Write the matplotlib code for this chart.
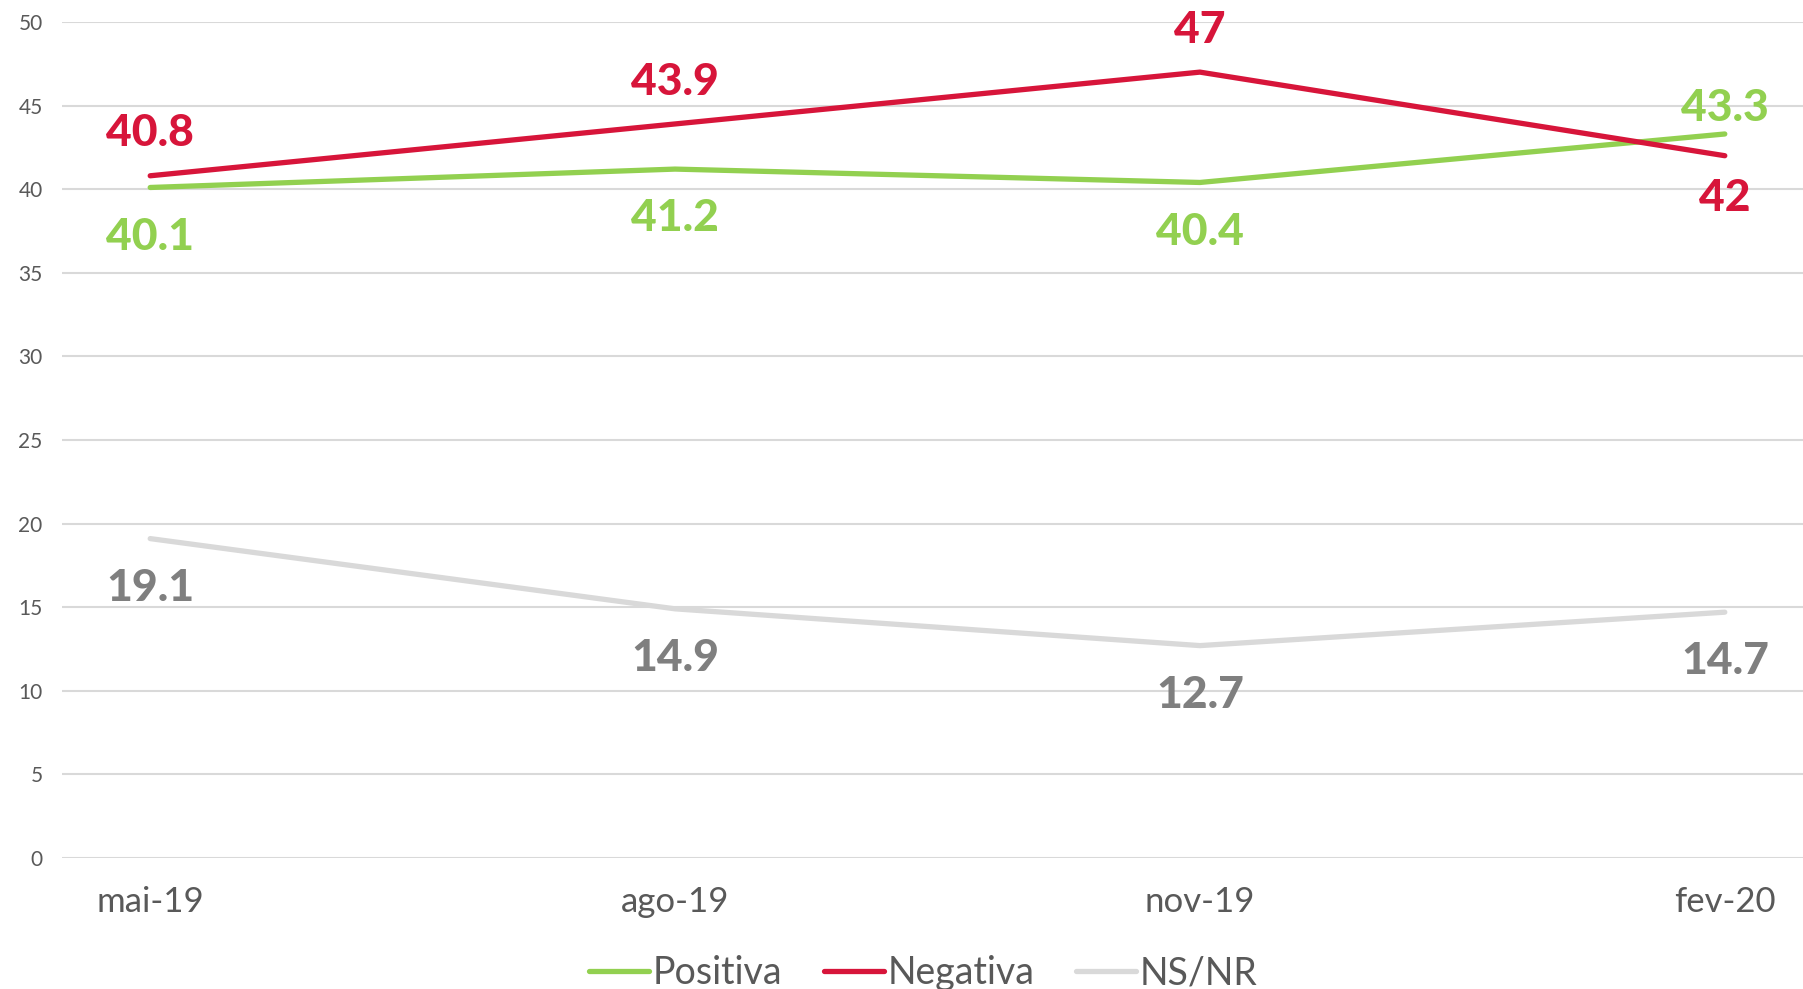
import matplotlib.pyplot as plt

plt.rcParams['font.family'] = ['Lato', 'DejaVu Sans']

periodos = ['mai-19', 'ago-19', 'nov-19', 'fev-20']
positiva = [40.1, 41.2, 40.4, 43.3]
negativa = [40.8, 43.9, 47, 42]
nsnr = [19.1, 14.9, 12.7, 14.7]

verde = '#92D050'
vermelho = '#D7153A'
cinza = '#D9D9D9'
cinza_txt = '#7F7F7F'

fig = plt.figure(figsize=(18.03, 9.89), dpi=100)
ax = fig.add_axes([0.0344, 0.1325, 0.9656, 0.8453])

x = range(len(periodos))
ax.plot(x, positiva, color=verde, lw=3.8, solid_capstyle='round', label='Positiva', zorder=3)
ax.plot(x, negativa, color=vermelho, lw=3.8, solid_capstyle='round', label='Negativa', zorder=4)
ax.plot(x, nsnr, color=cinza, lw=3.8, solid_capstyle='round', label='NS/NR', zorder=3)

# rótulos: acima ou abaixo da linha
pos_off = [-35.5, -35.5, -35.5, 18.5]
neg_off = [30.5, 30.5, 30.5, -30.5]
for i in x:
    ax.annotate(f'{positiva[i]:g}', (i, positiva[i]), xytext=(0, pos_off[i]), textcoords='offset points',
                ha='center', va='center', fontsize=32, fontweight='black', color=verde)
    ax.annotate(f'{negativa[i]:g}', (i, negativa[i]), xytext=(0, neg_off[i]), textcoords='offset points',
                ha='center', va='center', fontsize=32, fontweight='black', color=vermelho)
    ax.annotate(f'{nsnr[i]:g}', (i, nsnr[i]), xytext=(0, -35.5), textcoords='offset points',
                ha='center', va='center', fontsize=32, fontweight='black', color=cinza_txt)

ax.set_xlim(-0.168, 3.149)
ax.set_ylim(0, 50)
ax.set_yticks(range(0, 51, 5))
ax.set_xticks(list(x))
ax.set_xticklabels(periodos)
ax.grid(axis='y', color=cinza, lw=1.5)
ax.set_axisbelow(True)
for s in ax.spines.values():
    s.set_visible(False)
ax.tick_params(axis='y', length=0, pad=14, labelsize=15, labelcolor='#595959')
ax.tick_params(axis='x', length=0, pad=20, labelsize=25, labelcolor='#595959')

ax.legend(loc='center', bbox_to_anchor=(0.512, 0.016), bbox_transform=fig.transFigure, ncol=3,
          frameon=False, fontsize=27, handlelength=1.6, handletextpad=0.1, columnspacing=1.1,
          labelcolor='#595959')

fig.savefig('out.png', dpi=100)
